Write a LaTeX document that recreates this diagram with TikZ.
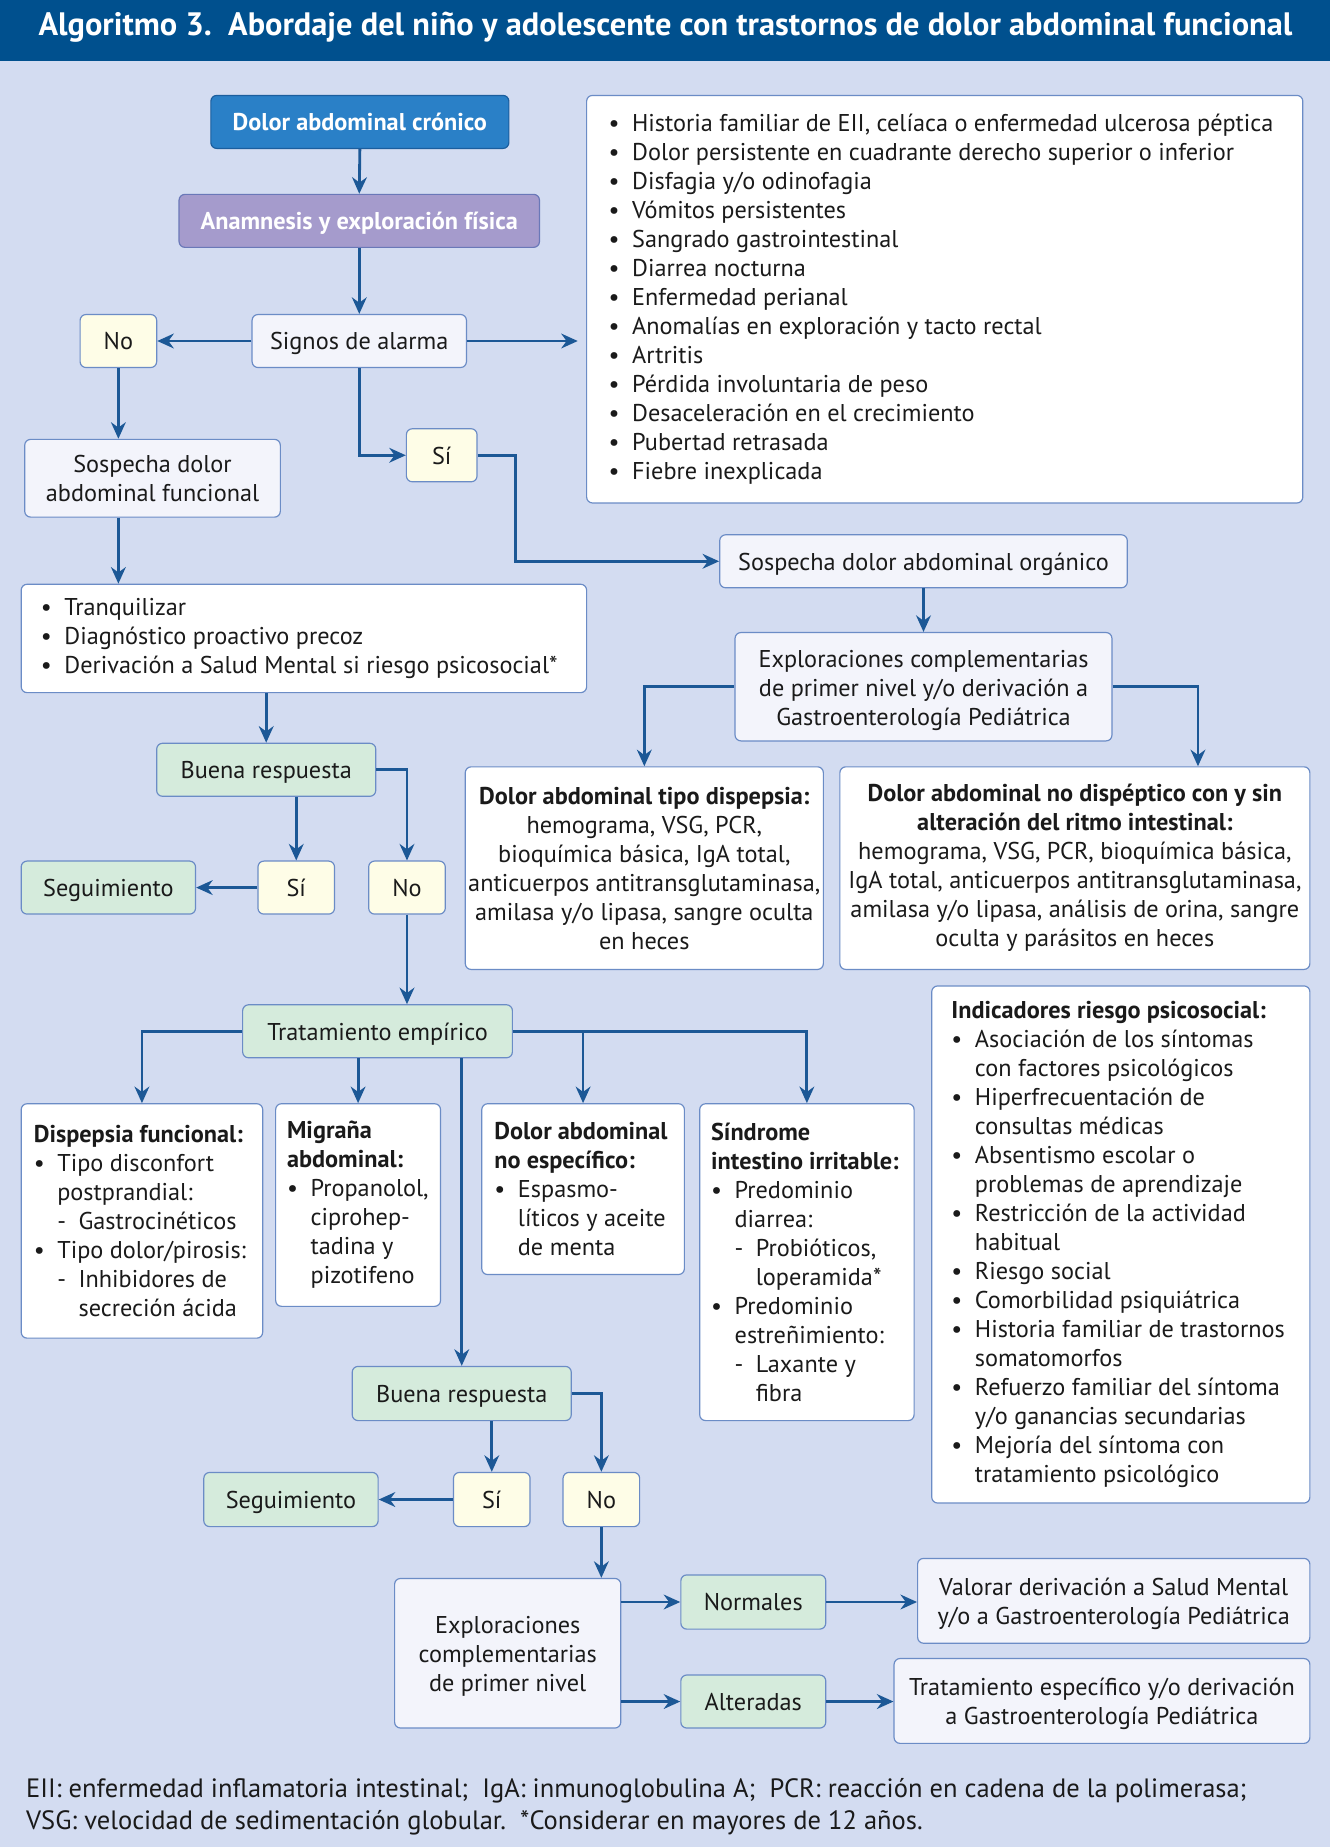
\documentclass[tikz,border=0pt]{standalone}
\usepackage{fontspec}
\setmainfont{PT Sans}
\usetikzlibrary{arrows.meta,calc}
\definecolor{bgc}{HTML}{D3DCF1}
\definecolor{headc}{HTML}{00508E}
\definecolor{bluec}{HTML}{2A80C7}
\definecolor{bluebd}{HTML}{1B5E9E}
\definecolor{purc}{HTML}{A59BCC}
\definecolor{purbd}{HTML}{6A78B8}
\definecolor{bordc}{HTML}{6B8CC6}
\definecolor{lightc}{HTML}{F3F4FB}
\definecolor{yelc}{HTML}{FEFDE7}
\definecolor{grnc}{HTML}{D5EBDC}
\definecolor{arrc}{HTML}{1C5896}
\definecolor{txtc}{HTML}{1A1A1A}
\newcommand\bul{\makebox[20pt][l]{•}}
\newcommand\ind{\hspace*{20pt}}
\newcommand\dsh{\makebox[18pt][l]{-}}
\newcommand\up{\rule{0pt}{20.5pt}}
\newcommand\bx[7]{\node[#1, minimum width=#4-#2, minimum height=#5-#3] (#6) at ({(#2+#4)/2},{(#3+#5)/2}) {#7};}
\tikzset{
  base/.style={draw=bordc, line width=1pt, rounded corners=5pt, inner sep=0pt, align=center, text=txtc,
    font=\fontsize{20.6}{24.6}\selectfont},
  one/.style={text height=20pt, text depth=5pt},
  lbox/.style={base, fill=lightc},
  ybox/.style={base, fill=yelc},
  gbox/.style={base, fill=grnc},
  wbox/.style={base, fill=white},
  bluebox/.style={base, fill=bluec, draw=bluebd, text=white, font=\bfseries\fontsize{20.6}{24.6}\selectfont},
  purbox/.style={base, fill=purc, draw=purbd, text=white, font=\bfseries\fontsize{20.6}{24.6}\selectfont},
  txt/.style={inner sep=0pt, align=left, text=txtc, font=\fontsize{20.6}{24.6}\selectfont},
  arr/.style={draw=arrc, line width=2.4pt, -{Stealth[length=14pt,width=12.5pt,inset=4.5pt]}},
}
\begin{document}
\begin{tikzpicture}[x=1pt,y=-1pt]
\fill[bgc] (0,0) rectangle (1129,1568);
\useasboundingbox (0,0) rectangle (1129,1568);
\fill[headc] (0,0) rectangle (1129,52);
\node[font=\bfseries\fontsize{27.5}{30}\selectfont, text=white, inner sep=0pt] (title) at (565,23)
  {Algoritmo 3.\ \ Abordaje del niño y adolescente con trastornos de dolor abdominal funcional};

\bx{bluebox,one}{179}{81}{432}{126}{crono}{Dolor abdominal crónico}
\bx{purbox,one}{152}{165}{458}{210}{anam}{Anamnesis y exploración física}
\bx{lbox,one}{214}{267}{396}{312}{signos}{Signos de alarma}
\bx{ybox,one}{68}{267}{133}{312}{no1}{No}
\bx{ybox,one}{345}{364}{405}{409}{si1}{Sí}
\bx{lbox}{21}{373}{238}{439}{sospf}{Sospecha dolor\\abdominal funcional}
\bx{wbox}{498}{81}{1106}{427}{alarm}{}
\node[txt, anchor=west] (alarm-t) at ($(alarm.west)+(19,0)$) {\bul Historia familiar de EII, celíaca o enfermedad ulcerosa péptica\\
\bul Dolor persistente en cuadrante derecho superior o inferior\\
\bul Disfagia y/o odinofagia\\
\bul Vómitos persistentes\\
\bul Sangrado gastrointestinal\\
\bul Diarrea nocturna\\
\bul Enfermedad perianal\\
\bul Anomalías en exploración y tacto rectal\\
\bul Artritis\\
\bul Pérdida involuntaria de peso\\
\bul Desaceleración en el crecimiento\\
\bul Pubertad retrasada\\
\bul Fiebre inexplicada};
\bx{lbox,one}{611}{454}{957}{499}{sospo}{Sospecha dolor abdominal orgánico}
\bx{lbox}{624}{537}{944}{629}{explo1}{\up Exploraciones complementarias\\de primer nivel y/o derivación a\\Gastroenterología Pediátrica}
\bx{wbox}{18}{496}{498}{588}{tranq}{}
\node[txt, anchor=west] (tranq-t) at ($(tranq.west)+(17,0)$) {\bul Tranquilizar\\
\bul Diagnóstico proactivo precoz\\
\bul Derivación a Salud Mental si riesgo psicosocial*};
\bx{gbox,one}{133}{631}{319}{676}{buena1}{Buena respuesta}
\bx{ybox,one}{219}{731}{284}{776}{si2}{Sí}
\bx{ybox,one}{313}{731}{378}{776}{no2}{No}
\bx{gbox,one}{18}{731}{166}{776}{seg1}{Seguimiento}
\bx{wbox}{395}{651}{699}{823}{disp}{\textbf{Dolor abdominal tipo dispepsia:}\\hemograma, VSG, PCR,\\bioquímica básica, IgA total,\\anticuerpos antitransglutaminasa,\\amilasa y/o lipasa, sangre oculta\\en heces}
\bx{wbox}{713}{651}{1112}{823}{nodisp}{\textbf{Dolor abdominal no dispéptico con y sin}\\\textbf{alteración del ritmo intestinal:}\\hemograma, VSG, PCR, bioquímica básica,\\IgA total, anticuerpos antitransglutaminasa,\\amilasa y/o lipasa, análisis de orina, sangre\\oculta y parásitos en heces}
\bx{gbox,one}{206}{853}{435}{898}{trat}{Tratamiento empírico}
\bx{wbox}{791}{837}{1112}{1276}{indic}{}
\node[txt, anchor=west] (indic-t) at ($(indic.west)+(17,0)$) {\textbf{Indicadores riesgo psicosocial:}\\
\bul Asociación de los síntomas\\
\ind con factores psicológicos\\
\bul Hiperfrecuentación de\\
\ind consultas médicas\\
\bul Absentismo escolar o\\
\ind problemas de aprendizaje\\
\bul Restricción de la actividad\\
\ind habitual\\
\bul Riesgo social\\
\bul Comorbilidad psiquiátrica\\
\bul Historia familiar de trastornos\\
\ind somatomorfos\\
\bul Refuerzo familiar del síntoma\\
\ind y/o ganancias secundarias\\
\bul Mejoría del síntoma con\\
\ind tratamiento psicológico};
\bx{wbox}{18}{937}{223}{1136}{dfun}{}
\node[txt, anchor=west] (dfun-t) at ($(dfun.west)+(11,0)$) {\textbf{Dispepsia funcional:}\\
\bul Tipo disconfort\\
\ind postprandial:\\
\ind\dsh Gastrocinéticos\\
\bul Tipo dolor/pirosis:\\
\ind\dsh Inhibidores de\\
\ind\hspace*{18pt}secreción ácida};
\bx{wbox}{234}{937}{374}{1109}{migr}{}
\node[txt, anchor=west] (migr-t) at ($(migr.west)+(10,0)$) {\textbf{Migraña}\\
\textbf{abdominal:}\\
\bul Propanolol,\\
\ind ciprohep-\\
\ind tadina y\\
\ind pizotifeno};
\bx{wbox}{409}{937}{581}{1082}{noesp}{}
\node[txt, anchor=west] (noesp-t) at ($(noesp.west)+(11,0)$) {\textbf{Dolor abdominal}\\
\textbf{no específico:}\\
\bul Espasmo-\\
\ind líticos y aceite\\
\ind de menta};
\bx{wbox}{594}{937}{776}{1206}{sii}{}
\node[txt, anchor=west] (sii-t) at ($(sii.west)+(10,0)$) {\textbf{Síndrome}\\
\textbf{intestino irritable:}\\
\bul Predominio\\
\ind diarrea:\\
\ind\dsh Probióticos,\\
\ind\hspace*{18pt}loperamida*\\
\bul Predominio\\
\ind estreñimiento:\\
\ind\dsh Laxante y\\
\ind\hspace*{18pt}fibra};
\bx{gbox,one}{299}{1160}{485}{1206}{buena2}{Buena respuesta}
\bx{gbox,one}{173}{1250}{321}{1296}{seg2}{Seguimiento}
\bx{ybox,one}{385}{1250}{450}{1296}{si3}{Sí}
\bx{ybox,one}{478}{1250}{543}{1296}{no3}{No}
\bx{lbox}{335}{1340}{527}{1467}{explo2}{\up Exploraciones\\complementarias\\de primer nivel}
\bx{gbox,one}{578}{1337}{701}{1383}{norm}{Normales}
\bx{gbox,one}{578}{1422}{701}{1467}{alter}{Alteradas}
\bx{lbox}{779}{1323}{1112}{1395}{valor}{\up Valorar derivación a Salud Mental\\y/o a Gastroenterología Pediátrica}
\bx{lbox}{759}{1408}{1112}{1480}{tesp}{\up Tratamiento específico y/o derivación\\a Gastroenterología Pediátrica}

\node[txt, anchor=west, font=\fontsize{22.5}{27}\selectfont] (foot) at (22,1534)
  {EII: enfermedad inflamatoria intestinal;\ \ IgA: inmunoglobulina A;\ \ PCR: reacción en cadena de la polimerasa;\\
   VSG: velocidad de sedimentación globular.\ \ *Considerar en mayores de 12 años.};

% connectors
\draw[arr] (crono.south) -- (anam.north);
\draw[arr] (anam.south) -- (signos.north);
\draw[arr] (signos.west) -- (no1.east);
\draw[arr, shorten >=7pt] (signos.east) -- (signos.east -| alarm.west);
\draw[arr] (signos.south) |- (si1.west);
\draw[arr] (no1.south) -- (no1.south |- sospf.north);
\draw[arr] (si1.east) -- ++(32,0) |- (sospo.west);
\draw[arr] (sospo.south) -- (explo1.north);
\draw[arr] (explo1.west) -| (disp.north);
\draw[arr] (explo1.east) -| ($(nodisp.north)+(104.5,0)$);
\draw[arr] (no1.south |- sospf.south) -- (no1.south |- tranq.north);
\draw[arr] (buena1.north |- tranq.south) -- (buena1.north);
\draw[arr] (si2.north |- buena1.south) -- (si2.north);
\draw[arr] (buena1.east) -| (no2.north);
\draw[arr] (si2.west) -- (seg1.east);
\draw[arr] (no2.south) -- (no2.south |- trat.north);
\draw[arr] (trat.west) -| (dfun.north);
\draw[arr] (migr.north |- trat.south) -- (migr.north);
\draw[arr] (buena2.north |- trat.south) -- (buena2.north);
\draw[arr] (trat.east) -| (noesp.north);
\draw[arr] (trat.east) -| (sii.north);
\draw[arr] (si3.north |- buena2.south) -- (si3.north);
\draw[arr] (buena2.east) -| (no3.north);
\draw[arr] (si3.west) -- (seg2.east);
\draw[arr] (no3.south) -- (no3.south |- explo2.north);
\draw[arr] (explo2.east |- norm.west) -- (norm.west);
\draw[arr] (explo2.east |- alter.west) -- (alter.west);
\draw[arr] (norm.east) -- (norm.east -| valor.west);
\draw[arr] (alter.east) -- (alter.east -| tesp.west);
\end{tikzpicture}
\end{document}
